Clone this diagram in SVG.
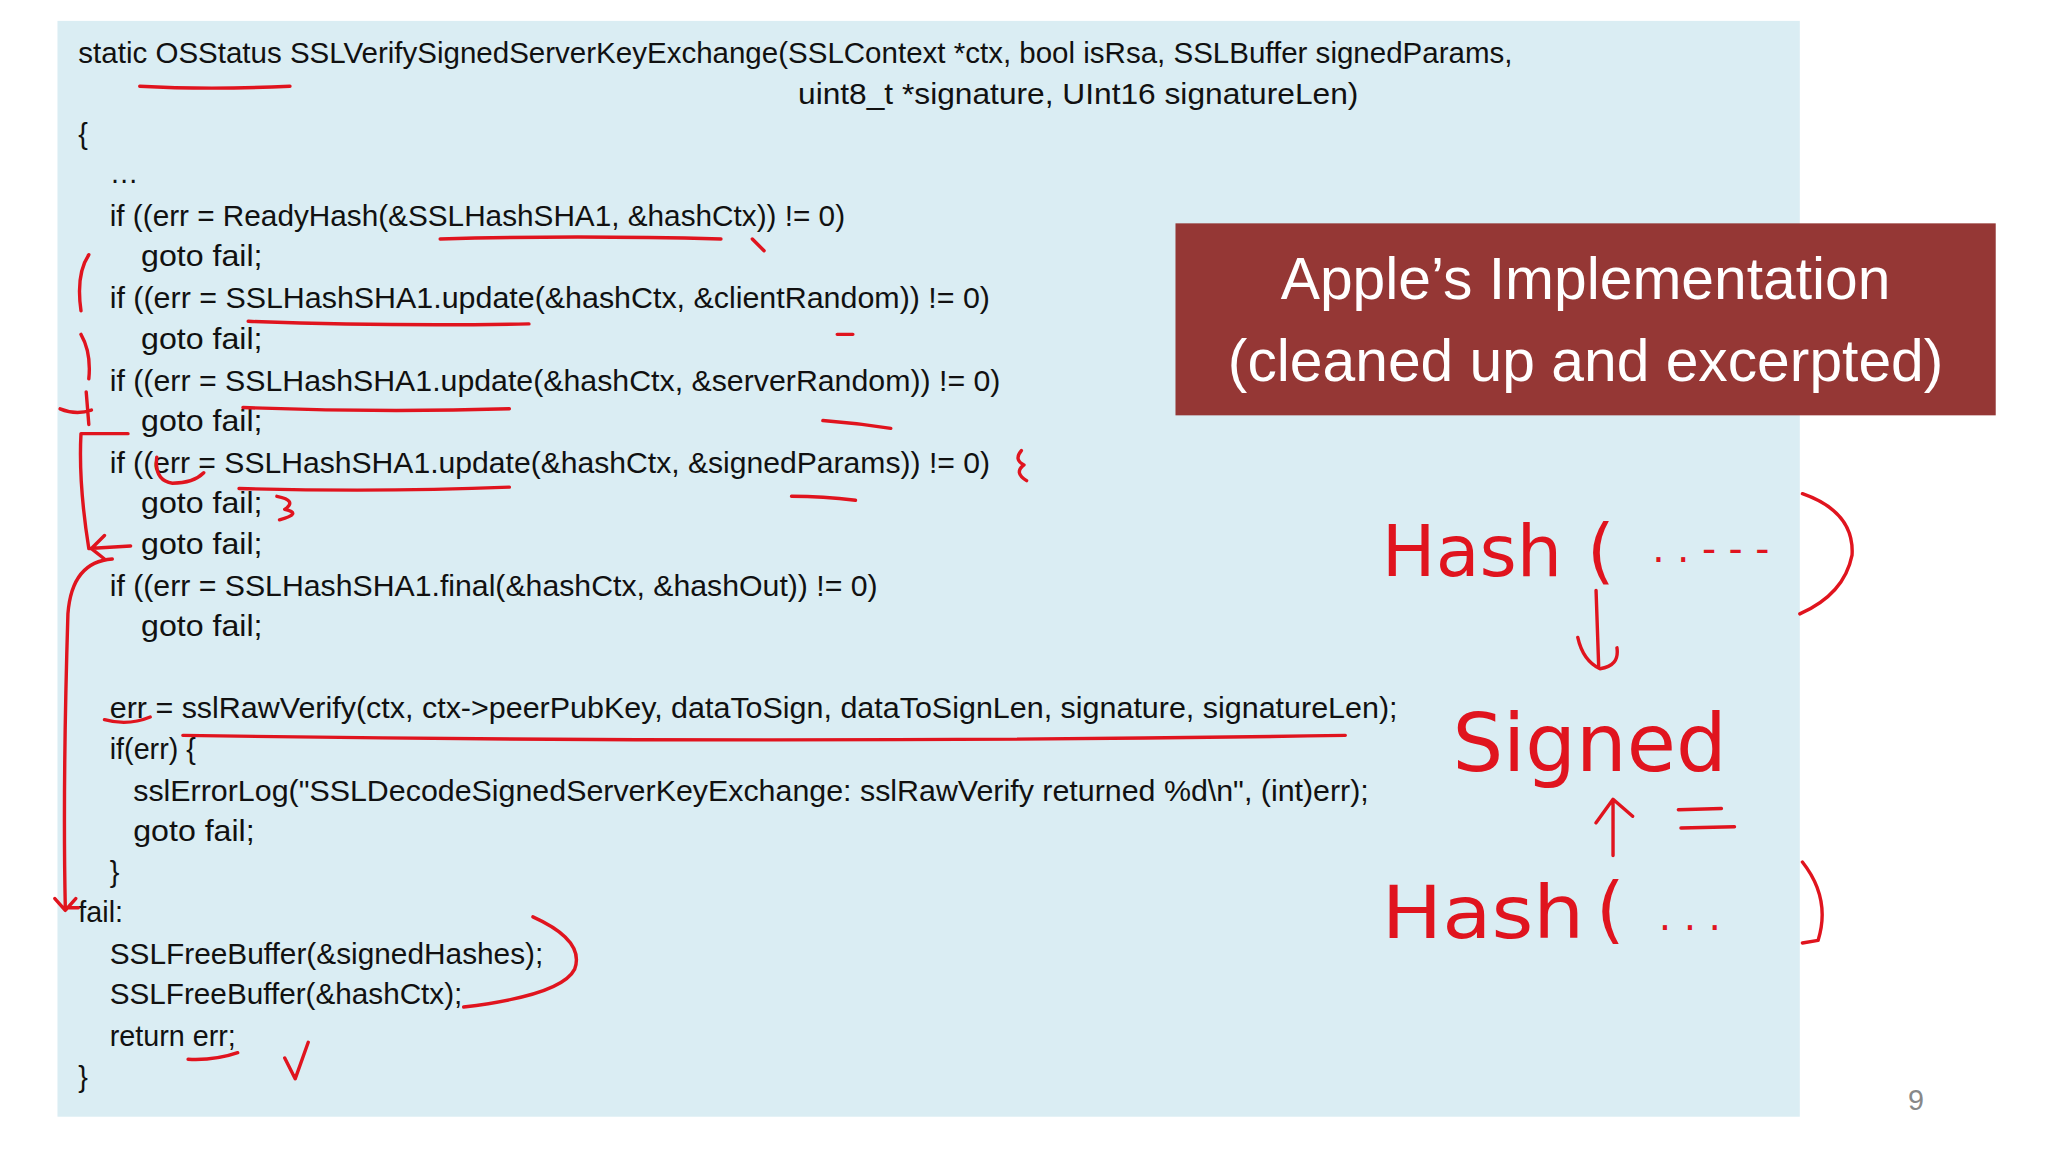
<svg xmlns="http://www.w3.org/2000/svg" width="2048" height="1152" viewBox="0 0 2048 1152">
<style>
.c{font-family:"Liberation Sans","Open Sans",sans-serif;font-size:22px;fill:#111}
.t{font-family:"Liberation Sans","Open Sans",sans-serif;font-size:45px;fill:#fff;text-anchor:middle}
.h{font-family:"DejaVu Sans","Liberation Sans",sans-serif;fill:#e0141e}
.r{fill:none;stroke:#e0141e;stroke-width:2.6;stroke-linecap:round;stroke-linejoin:round}
</style>
<rect width="2048" height="1152" fill="#fff"/>
<g transform="scale(1.3061)">
<g id="codebox">
<rect x="44" y="16" width="1334" height="839" fill="#daedf3"/>
<text class="c" x="60" y="48" textLength="1098" lengthAdjust="spacingAndGlyphs">static OSStatus SSLVerifySignedServerKeyExchange(SSLContext *ctx, bool isRsa, SSLBuffer signedParams,</text>
<text class="c" x="611" y="80" textLength="429" lengthAdjust="spacingAndGlyphs">uint8_t *signature, UInt16 signatureLen)</text>
<text class="c" x="60" y="110">{</text>
<text class="c" x="84" y="140">…</text>
<text class="c" x="84" y="173" textLength="563" lengthAdjust="spacingAndGlyphs">if ((err = ReadyHash(&amp;SSLHashSHA1, &amp;hashCtx)) != 0)</text>
<text class="c" x="108" y="204" textLength="93" lengthAdjust="spacingAndGlyphs">goto fail;</text>
<text class="c" x="84" y="236" textLength="674" lengthAdjust="spacingAndGlyphs">if ((err = SSLHashSHA1.update(&amp;hashCtx, &amp;clientRandom)) != 0)</text>
<text class="c" x="108" y="267" textLength="93" lengthAdjust="spacingAndGlyphs">goto fail;</text>
<text class="c" x="84" y="299" textLength="682" lengthAdjust="spacingAndGlyphs">if ((err = SSLHashSHA1.update(&amp;hashCtx, &amp;serverRandom)) != 0)</text>
<text class="c" x="108" y="330" textLength="93" lengthAdjust="spacingAndGlyphs">goto fail;</text>
<text class="c" x="84" y="362" textLength="674" lengthAdjust="spacingAndGlyphs">if ((err = SSLHashSHA1.update(&amp;hashCtx, &amp;signedParams)) != 0)</text>
<text class="c" x="108" y="393" textLength="93" lengthAdjust="spacingAndGlyphs">goto fail;</text>
<text class="c" x="108" y="424" textLength="93" lengthAdjust="spacingAndGlyphs">goto fail;</text>
<text class="c" x="84" y="456" textLength="588" lengthAdjust="spacingAndGlyphs">if ((err = SSLHashSHA1.final(&amp;hashCtx, &amp;hashOut)) != 0)</text>
<text class="c" x="108" y="487" textLength="93" lengthAdjust="spacingAndGlyphs">goto fail;</text>
<text class="c" x="84" y="550" textLength="986" lengthAdjust="spacingAndGlyphs">err = sslRawVerify(ctx, ctx-&gt;peerPubKey, dataToSign, dataToSignLen, signature, signatureLen);</text>
<text class="c" x="84" y="581">if(err) {</text>
<text class="c" x="102" y="613" textLength="946" lengthAdjust="spacingAndGlyphs">sslErrorLog("SSLDecodeSignedServerKeyExchange: sslRawVerify returned %d\n", (int)err);</text>
<text class="c" x="102" y="644" textLength="93" lengthAdjust="spacingAndGlyphs">goto fail;</text>
<text class="c" x="84" y="675">}</text>
<text class="c" x="60" y="706">fail:</text>
<text class="c" x="84" y="738" textLength="332" lengthAdjust="spacingAndGlyphs">SSLFreeBuffer(&amp;signedHashes);</text>
<text class="c" x="84" y="769" textLength="270" lengthAdjust="spacingAndGlyphs">SSLFreeBuffer(&amp;hashCtx);</text>
<text class="c" x="84" y="801">return err;</text>
<text class="c" x="60" y="832">}</text>
</g>
<g id="title">
<rect x="900" y="171" width="628" height="147" fill="#953735"/>
<text class="t" x="1214" y="229">Apple’s Implementation</text>
<text class="t" x="1214" y="292">(cleaned up and excerpted)</text>
</g>
<text x="1467" y="850" font-family="Liberation Sans,sans-serif" font-size="22" fill="#888" text-anchor="middle">9</text>
<g id="annotations">
<path class="r" d="M107 66 Q160 69 222 66 M337 183 Q440 180 552 183 M576 183 L585 192 M190 246 Q300 250 405 248 M186 312 Q290 316 390 313 M183 374 Q290 377 390 373 M641 256 L653 256 M630 322 Q656 324 682 328 M606 380 Q630 380 655 383 M80 551 Q98 556 115 549 M140 563 Q600 570 1030 563 M144 811 Q165 812 182 806 M218 810 L226 826 L236 798"/>
<path class="r" d="M68 195 Q58 210 62 238 M62 256 Q70 270 68 290 M46 313 Q58 318 70 314 M66 300 L68 325 M62 332 L98 332 M62 332 Q60 370 68 420 M68 420 L100 418 M80 410 L70 420 L80 428 M86 428 Q55 430 52 470 Q48 600 50 695 L60 695 M42 688 L50 697 L58 688"/>
<path class="r" d="M120 350 Q118 368 132 370 Q148 370 156 362 M212 380 Q228 383 218 390 Q232 393 214 398 M782 345 Q776 352 784 356 Q776 362 786 368 M408 702 Q448 720 440 742 Q430 762 355 771"/>
<text class="h" x="1058" y="441" font-size="54" textLength="138" lengthAdjust="spacingAndGlyphs">Hash</text>
<text class="h" x="1215" y="440" font-size="54">(</text>
<text class="h" x="1265" y="430" font-size="30">. . - - -</text>
<path class="r" d="M1380 378 Q1420 392 1418 425 Q1412 455 1378 470 M1222 452 L1224 510 M1208 488 Q1212 506 1225 512 Q1240 510 1238 496 M1235 655 L1235 612 M1222 630 L1235 612 L1250 625 M1285 620 L1318 619 M1287 634 L1328 633 M1380 660 Q1402 688 1392 720 L1380 722"/>
<text class="h" x="1112" y="590" font-size="62" textLength="210" lengthAdjust="spacingAndGlyphs">Signed</text>
<text class="h" x="1058" y="718" font-size="56" textLength="155" lengthAdjust="spacingAndGlyphs">Hash</text>
<text class="h" x="1222" y="716" font-size="56">(</text>
<text class="h" x="1270" y="712" font-size="30">. . .</text>
</g>
</g>
</svg>
